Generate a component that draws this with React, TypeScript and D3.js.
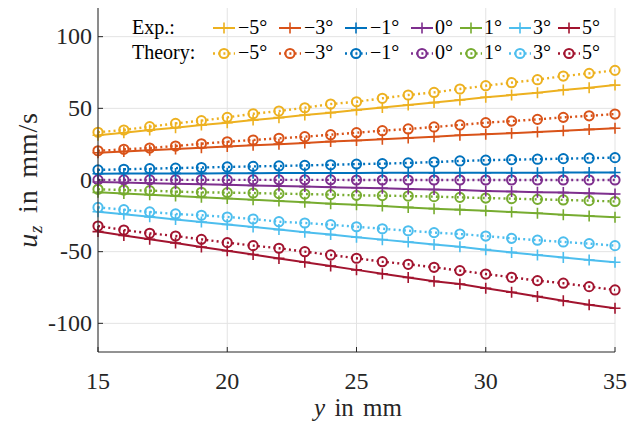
import React from "react";
import * as d3 from "d3";

// Positions along the channel (mm)
const yPos = d3.range(15, 36, 1);

// Angles and series colours
const angleLabels = ["−5°", "−3°", "−1°", "0°", "1°", "3°", "5°"];
const colors = ["#EDB120", "#D95319", "#0072BD", "#7E2F8E", "#77AC30", "#4DBEEE", "#A2142F"];

// Measured velocities u_z (mm/s)
const expM5 = [31.2, 33.0, 34.8, 36.5, 38.3, 40.0, 41.8, 43.5, 45.3, 47.0, 48.8, 50.5, 52.3, 54.0, 55.8, 57.7, 59.3, 60.9, 62.8, 64.3, 66.2];
const expM3 = [19.0, 19.9, 20.8, 21.6, 22.5, 23.3, 24.2, 25.0, 25.9, 26.8, 27.6, 28.5, 29.3, 30.2, 31.2, 32.0, 32.7, 33.5, 34.4, 35.3, 36.1];
const expM1 = [4.4, 4.5, 4.5, 4.6, 4.6, 4.7, 4.7, 4.8, 4.8, 4.9, 4.9, 5.0, 5.0, 5.0, 5.1, 5.1, 5.1, 5.1, 5.2, 5.2, 5.2];
const exp0 = [-1.4, -1.8, -2.2, -2.6, -3.0, -3.4, -3.8, -4.2, -4.6, -5.0, -5.4, -5.8, -6.2, -6.6, -7.0, -7.6, -8.0, -8.5, -8.8, -9.3, -9.8];
const expP1 = [-8.6, -9.5, -10.3, -11.2, -12.1, -12.9, -13.8, -14.7, -15.6, -16.5, -17.3, -18.2, -19.1, -20.0, -20.7, -21.5, -22.3, -23.2, -24.2, -25.1, -26.0];
const expP3 = [-22.1, -23.9, -25.7, -27.5, -29.3, -31.0, -32.8, -34.6, -36.4, -38.1, -39.9, -41.6, -43.3, -45.0, -46.6, -48.6, -50.5, -52.3, -54.1, -55.8, -57.4];
const expP5 = [-36.0, -38.7, -41.3, -44.0, -46.7, -49.4, -52.0, -54.7, -57.4, -60.0, -62.7, -65.4, -68.0, -70.7, -72.6, -75.5, -78.3, -81.3, -84.2, -87.0, -89.5];

// Theoretical velocities u_z (mm/s)
const thM5 = [33.3, 34.9, 37.2, 39.5, 41.4, 43.7, 46.2, 48.1, 50.4, 53.0, 54.6, 57.0, 59.3, 61.1, 63.5, 65.8, 67.9, 70.0, 72.5, 74.4, 76.5];
const thM3 = [20.4, 21.4, 22.3, 23.7, 25.3, 26.7, 27.9, 29.1, 30.2, 31.6, 33.0, 34.4, 35.6, 37.0, 38.4, 40.0, 41.1, 42.3, 43.7, 44.8, 46.0];
const thM1 = [7.0, 7.5, 7.9, 8.3, 8.7, 9.1, 9.5, 9.8, 10.2, 10.6, 11.1, 11.4, 11.9, 12.5, 13.3, 13.8, 14.2, 14.5, 14.9, 15.2, 15.6];
const th0 = [0.1, 0.1, 0.1, 0.1, 0.1, 0.1, 0.1, 0.1, 0.1, 0.1, 0.0, 0.0, 0.0, 0.0, 0.0, 0.0, 0.0, 0.0, 0.0, 0.0, 0.0];
const thP1 = [-6.5, -7.0, -7.4, -8.1, -8.6, -8.8, -9.1, -9.5, -9.8, -10.2, -10.7, -10.9, -11.2, -11.6, -12.1, -12.6, -13.0, -13.5, -13.9, -14.4, -15.0];
const thP3 = [-19.1, -20.7, -22.3, -23.7, -24.6, -25.8, -27.2, -29.1, -30.0, -31.2, -32.6, -34.0, -35.4, -36.7, -37.7, -39.1, -40.7, -42.0, -43.2, -44.4, -45.8];
const thP5 = [-32.1, -34.9, -37.2, -39.1, -41.4, -43.7, -45.8, -47.6, -50.0, -52.3, -54.6, -57.0, -58.8, -60.9, -63.2, -65.6, -67.9, -70.2, -72.0, -74.4, -76.7];

const expSeries = [expM5, expM3, expM1, exp0, expP1, expP3, expP5];
const theorySeries = [thM5, thM3, thM1, th0, thP1, thP3, thP5];

const xTicks = [15, 20, 25, 30, 35];
const yTicks = [-100, -50, 0, 50, 100];

const W = 643;
const H = 421;
const margin = { left: 98, right: 28, top: 8, bottom: 69 };
const FONT = "'Liberation Serif'";
const AX = "#262626";

export default function App() {
  const x = d3.scaleLinear().domain([15, 35]).range([margin.left, W - margin.right]);
  const y = d3.scaleLinear().domain([-120, 120]).range([H - margin.bottom, margin.top]);
  const line = d3
    .line<number>()
    .x((_, i) => x(yPos[i]))
    .y((d) => y(d));

  const plus = (cx: number, cy: number, s: number, c: string, key: string) => (
    <path key={key} d={`M${cx - s},${cy}H${cx + s}M${cx},${cy - s}V${cy + s}`} stroke={c} strokeWidth={1.6} fill="none" />
  );
  const circ = (cx: number, cy: number, c: string, key: string) => (
    <circle key={key} cx={cx} cy={cy} r={4.6} stroke={c} strokeWidth={2} fill="none" />
  );

  const x0 = margin.left;
  const yB = H - margin.bottom;

  // legend columns: [sample start x, label x]
  const legendCols = [
    [213, 238],
    [279, 304],
    [345, 370],
    [411, 435],
    [460, 484],
    [509, 533],
    [558, 582],
  ];
  const legRows = [28, 53.5];
  const legBase = [33.5, 59];
  const legStyle = { fontFamily: FONT, fontSize: 20 };
  const tickStyle = { fontFamily: FONT, fontSize: 24 };

  return (
    <svg width={W} height={H} style={{ position: "absolute", left: 0, top: 0, background: "#fff" }}>
      {/* grid */}
      {xTicks.map((t) => (
        <line key={"gx" + t} x1={x(t)} x2={x(t)} y1={margin.top} y2={yB} stroke="#e3e3e3" strokeWidth={1} />
      ))}
      {yTicks.map((t) => (
        <line key={"gy" + t} x1={x0} x2={W - margin.right} y1={y(t)} y2={y(t)} stroke="#e3e3e3" strokeWidth={1} />
      ))}

      {/* theory: dotted lines with circles */}
      {theorySeries.map((s, k) => (
        <g key={"th" + k}>
          <path d={line(s) ?? ""} stroke={colors[k]} strokeWidth={2.4} strokeDasharray="2 3.2" fill="none" />
          {s.map((v, i) => circ(x(yPos[i]), y(v), colors[k], "c" + i))}
        </g>
      ))}

      {/* experiment: solid lines with plus markers */}
      {expSeries.map((s, k) => (
        <g key={"ex" + k}>
          <path d={line(s) ?? ""} stroke={colors[k]} strokeWidth={2} fill="none" />
          {s.map((v, i) => plus(x(yPos[i]), y(v), 5.5, colors[k], "p" + i))}
        </g>
      ))}

      {/* axes */}
      <line x1={x0} x2={x0} y1={margin.top} y2={yB} stroke={AX} strokeWidth={1} />
      <line x1={x0} x2={W - margin.right} y1={yB} y2={yB} stroke={AX} strokeWidth={1} />
      {xTicks.map((t) => (
        <g key={"tx" + t}>
          <line x1={x(t)} x2={x(t)} y1={yB} y2={yB - 5} stroke={AX} strokeWidth={1} />
          <text x={x(t)} y={389} textAnchor="middle" style={tickStyle} fill={AX}>
            {t}
          </text>
        </g>
      ))}
      {yTicks.map((t) => (
        <g key={"ty" + t}>
          <line x1={x0} x2={x0 + 5} y1={y(t)} y2={y(t)} stroke={AX} strokeWidth={1} />
          <text x={x0 - 6} y={y(t) + 7.5} textAnchor="end" style={tickStyle} fill={AX}>
            {t < 0 ? "-" + Math.abs(t) : t}
          </text>
        </g>
      ))}

      {/* axis labels */}
      <text x={358} y={416} textAnchor="middle" style={{ fontFamily: FONT, fontSize: 25, wordSpacing: 3 }} fill={AX}>
        <tspan fontStyle="italic">y</tspan> in mm
      </text>
      <text
        transform={`translate(37,${y(0)}) rotate(-90)`}
        textAnchor="middle"
        style={{ fontFamily: FONT, fontSize: 28, wordSpacing: 4, letterSpacing: 0.8 }}
        fill={AX}
      >
        <tspan fontStyle="italic">u</tspan>
        <tspan fontStyle="italic" fontSize={19} dy={5}>z</tspan>
        <tspan dy={-5}> in mm/s</tspan>
      </text>

      {/* legend */}
      <text x={132} y={legBase[0]} style={legStyle} fill="#000">Exp.:</text>
      <text x={132} y={legBase[1]} style={legStyle} fill="#000">Theory:</text>
      {legendCols.map(([sx, lx], k) => (
        <g key={"lg" + k}>
          <line x1={sx} x2={sx + 22} y1={legRows[0]} y2={legRows[0]} stroke={colors[k]} strokeWidth={2} />
          {plus(sx + 11, legRows[0], 5.5, colors[k], "lp")}
          <text x={lx} y={legBase[0]} style={legStyle} fill="#000">{angleLabels[k]}</text>
          <line x1={sx} x2={sx + 22} y1={legRows[1]} y2={legRows[1]} stroke={colors[k]} strokeWidth={2.4} strokeDasharray="2 3.2" />
          {circ(sx + 11, legRows[1], colors[k], "lc")}
          <text x={lx} y={legBase[1]} style={legStyle} fill="#000">{angleLabels[k]}</text>
        </g>
      ))}
    </svg>
  );
}
